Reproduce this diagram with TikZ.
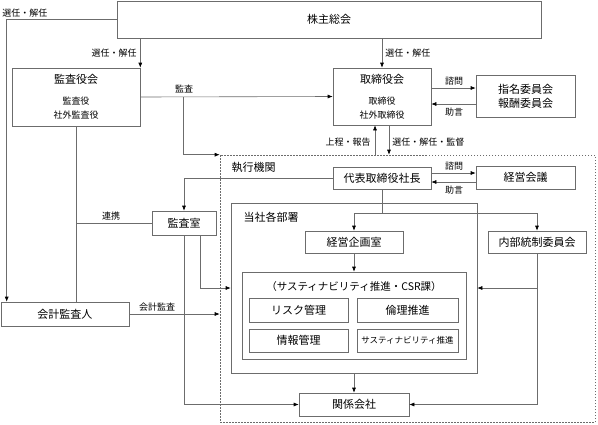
\documentclass[tikz,border=0pt]{standalone}
\usepackage{fontspec}
\setmainfont{Noto Sans CJK JP}
\usepackage{tikz}
\usetikzlibrary{calc}
\usetikzlibrary{arrows.meta}
\tikzstyle{wire}=[draw=gray!85!black]
\tikzstyle{hit}=[wire,->,>={Latex[length=5pt,width=4pt,color=black]}]
\tikzstyle{unit}=[draw=gray!85!black,fill=white,inner sep=0,align=center,
                  font=\fontsize{11}{13}\selectfont]
\tikzstyle{lbl}=[inner sep=1pt,font=\fontsize{9}{11}\selectfont]

\begin{document}
\begin{tikzpicture}[x=1pt,y=-1pt,line width=0.6pt]
\useasboundingbox (0,0) rectangle (598,424);
\node[draw=gray!85!black,dash pattern=on 1.5pt off 1.5pt,inner sep=0,
      minimum width=375pt,minimum height=267pt] (shikko) at (407.5,288.5) {};
\node[anchor=west,font=\fontsize{11}{13}\selectfont] (shikkolbl) at (228,167) {執行機関};
\node[unit,minimum width=424pt,minimum height=37pt] (kabu) at (329,19.5) {株主総会};
\node[unit,minimum width=128pt,minimum height=58pt,font=\fontsize{9}{14}\selectfont]
  (kansayaku) at (76,97) {{\fontsize{11}{13}\selectfont 監査役会}\\[7pt]監査役\\社外監査役};
\node[unit,minimum width=98pt,minimum height=57pt,font=\fontsize{9}{14}\selectfont]
  (torishimari) at (382,96.5) {{\fontsize{11}{13}\selectfont 取締役会}\\[7pt]取締役\\社外取締役};
\node[unit,minimum width=99pt,minimum height=42pt,font=\fontsize{11}{14}\selectfont]
  (iinkai) at (525.5,96.5) {指名委員会\\報酬委員会};
\node[unit,minimum width=98pt,minimum height=22pt] (shacho) at (382,178) {代表取締役社長};
\node[unit,minimum width=99pt,minimum height=23pt] (kaigi) at (525.5,177.5) {経営会議};
\node[unit,minimum width=64pt,minimum height=24pt] (kansashitsu) at (184,223) {監査室};
\node[unit,minimum width=128pt,minimum height=24pt] (kaikei) at (65,314) {会計監査人};
% 当社各部署
\node[unit,minimum width=246pt,minimum height=170pt] (kakubu) at (354,288) {};
\node[anchor=west,font=\fontsize{11}{13}\selectfont] (kakubulbl) at (240,217) {当社各部署};
\node[unit,minimum width=98pt,minimum height=22pt] (kikaku) at (354,242) {経営企画室};
\node[unit,minimum width=98pt,minimum height=22pt] (naibu) at (537,242) {内部統制委員会};
\node[unit,minimum width=224pt,minimum height=87pt] (csr) at (354,315.5) {};
\node[font=\fontsize{10.5}{12}\selectfont] (csrtitle) at (354,287) {（サスティナビリティ推進・CSR課）};
\node[unit,minimum width=99pt,minimum height=24pt] (risk) at (298.5,310) {リスク管理};
\node[unit,minimum width=101pt,minimum height=24pt] (rinri) at (407.5,310.5) {倫理推進};
\node[unit,minimum width=99pt,minimum height=23pt] (joho) at (298.5,340.5) {情報管理};
\node[unit,minimum width=101pt,minimum height=23pt,font=\fontsize{8.5}{10}\selectfont]
  (suishin) at (407.5,340.5) {サスティナビリティ推進};
\node[unit,minimum width=110pt,minimum height=23pt] (kankei) at (354,404.5) {関係会社};

% 株主総会から
\draw[hit] (kabu.west) -| ($(kaikei.north west)+(6,0)$);
\node[lbl,anchor=west] (sn1) at (1,13) {選任・解任};
\draw[hit] (kansayaku.north east |- kabu.south) -- (kansayaku.north east);
\node[lbl,anchor=east] (sn2) at (138,53) {選任・解任};
\draw[hit] (kabu.south -| torishimari.north) -- (torishimari.north);
\node[lbl,anchor=west] (sn3) at (384,53) {選任・解任};

% 監査
\draw[hit] (kansayaku.east) -- (torishimari.west);
\node[lbl] (kansalbl) at (184,89) {監査};
\coordinate (kansabr) at ($(kansayaku.east)+(43,0)$);
\draw[hit] (kansabr) |- (shikko.north west);
\draw[wire] (kansayaku.south) -- (kansayaku.south |- kaikei.north);
\draw[wire] (kansayaku.south |- kansashitsu.west) -- (kansashitsu.west);
\node[lbl] (renkei) at (111,216) {連携};

% 取締役会と委員会
\draw[hit] ($(torishimari.east)+(0,-8.5)$) -- ($(iinkai.west)+(0,-8.5)$);
\node[lbl] (shimon1) at (454,81) {諮問};
\draw[hit] ($(iinkai.west)+(0,7.5)$) -- ($(torishimari.east)+(0,7.5)$);
\node[lbl] (jogen1) at (454,112) {助言};

% 取締役会と執行機関
\coordinate (joteil) at ($(torishimari.south)+(-7,0)$);
\coordinate (kantokul) at ($(torishimari.south)+(7,0)$);
\draw[hit] (joteil |- shikko.north) -- (joteil);
\draw[hit] (kantokul) -- (kantokul |- shikko.north);
\node[lbl,anchor=east] (jotei) at (372,142) {上程・報告};
\node[lbl,anchor=west] (kantoku) at (391,142) {選任・解任・監督};

% 社長と経営会議
\draw[hit] ($(shacho.east)+(0,-5)$) -- ($(kaigi.west)+(0,-4.5)$);
\node[lbl] (shimon2) at (454,166) {諮問};
\draw[hit] ($(kaigi.west)+(0,4.5)$) -- ($(shacho.east)+(0,4)$);
\node[lbl] (jogen2) at (454,190) {助言};

% 社長から
\draw[hit] (shacho.west) -| (kansashitsu.north);
\coordinate (split) at ($(shacho.south)+(0,24)$);
\draw[wire] (shacho.south) -- (split);
\draw[hit] (split) -| (kikaku.north);
\draw[hit] (split) -| (naibu.north);
\draw[hit] (kikaku.south) -- (csr.north);

% 監査室から
\draw[hit] (kansashitsu.south) |- (kankei.west);
\coordinate (kansa2) at ($(kansashitsu.south)+(16,0)$);
\draw[hit] (kansa2) |- (kakubu.west);

% 会計監査
\draw[hit] (kaikei.east) -- (kaikei.east -| shikko.west);
\node[lbl] (kaikeilbl) at (157,307) {会計監査};

% 内部統制委員会から
\draw[hit] (naibu.south) |- (kankei.east);
\draw[hit] (naibu.south |- kakubu.east) -- (kakubu.east);
\draw[hit] (kakubu.south) -- (kankei.north);
\end{tikzpicture}
\end{document}
